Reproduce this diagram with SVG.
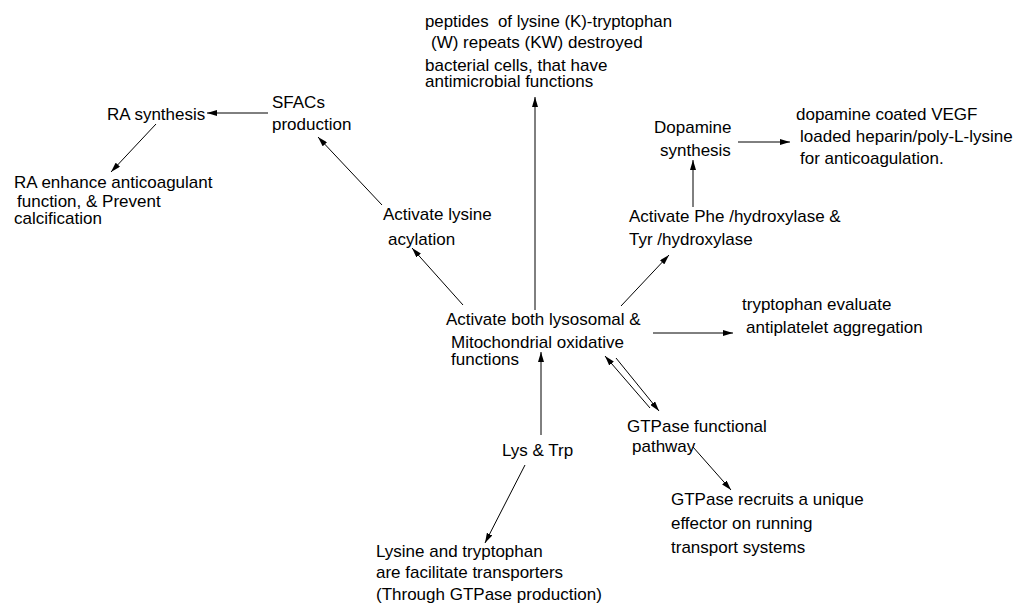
<svg xmlns="http://www.w3.org/2000/svg" width="1022" height="606" viewBox="0 0 1022 606">
<style>
text{font-family:"Liberation Sans",Arial,sans-serif;font-size:17px;fill:#000}
.c line{stroke:#000;stroke-width:1;marker-end:url(#ah)}
</style>
<defs>
<marker id="ah" viewBox="0 0 10 6" refX="10" refY="3" markerWidth="10" markerHeight="6" markerUnits="userSpaceOnUse" orient="auto">
<path d="M0,0 L10,3 L0,6 Z" fill="#000"/>
</marker>
</defs>
<rect width="1022" height="606" fill="#fff"/>
<g class="c" id="connectors">
<line x1="535" y1="310" x2="535" y2="97"/>
<line x1="268" y1="113" x2="207" y2="113"/>
<line x1="156" y1="124" x2="111" y2="172"/>
<line x1="382" y1="205" x2="318" y2="137"/>
<line x1="463" y1="305" x2="412" y2="248"/>
<line x1="621" y1="306" x2="669" y2="255"/>
<line x1="693" y1="207" x2="693" y2="160"/>
<line x1="738" y1="142" x2="790" y2="142"/>
<line x1="653" y1="333" x2="733" y2="333"/>
<line x1="650" y1="408" x2="605" y2="356"/>
<line x1="616" y1="358" x2="659" y2="411"/>
<line x1="693" y1="447" x2="731" y2="490"/>
<line x1="541" y1="435" x2="541" y2="352"/>
<line x1="525" y1="465" x2="485" y2="543"/>
</g>
<g id="peptides"><text x="425" y="27" xml:space="preserve" textLength="247" lengthAdjust="spacingAndGlyphs">peptides  of lysine (K)-tryptophan</text><text x="431" y="48">(W) repeats (KW) destroyed</text><text x="425" y="71">bacterial cells, that have</text><text x="425" y="87">antimicrobial functions</text></g>
<g id="ra-synthesis"><text x="107" y="120">RA synthesis</text></g>
<g id="sfacs"><text x="272" y="108">SFACs</text><text x="272" y="130">production</text></g>
<g id="ra-enhance"><text x="14" y="188">RA enhance anticoagulant</text><text x="17" y="207">function, &amp; Prevent</text><text x="14" y="224">calcification</text></g>
<g id="lysine-acylation"><text x="383" y="220">Activate lysine</text><text x="388" y="245">acylation</text></g>
<g id="center"><text x="446" y="325">Activate both lysosomal &amp;</text><text x="451" y="348">Mitochondrial oxidative</text><text x="451" y="365">functions</text></g>
<g id="phe"><text x="629" y="222">Activate Phe /hydroxylase &amp;</text><text x="629" y="245">Tyr /hydroxylase</text></g>
<g id="dopamine"><text x="654" y="133">Dopamine</text><text x="660" y="156">synthesis</text></g>
<g id="vegf"><text x="796" y="120">dopamine coated VEGF</text><text x="800" y="142">loaded heparin/poly-L-lysine</text><text x="800" y="164">for anticoagulation.</text></g>
<g id="tryptophan"><text x="742" y="310">tryptophan evaluate</text><text x="746" y="333">antiplatelet aggregation</text></g>
<g id="gtpase-path"><text x="627" y="432">GTPase functional</text><text x="632" y="452">pathway</text></g>
<g id="gtpase-recruits"><text x="671" y="505">GTPase recruits a unique</text><text x="671" y="529">effector on running</text><text x="671" y="553">transport systems</text></g>
<g id="lystrp"><text x="502" y="456">Lys &amp; Trp</text></g>
<g id="transporters"><text x="376" y="557">Lysine and tryptophan</text><text x="376" y="578">are facilitate transporters</text><text x="376" y="600">(Through GTPase production)</text></g>
</svg>
